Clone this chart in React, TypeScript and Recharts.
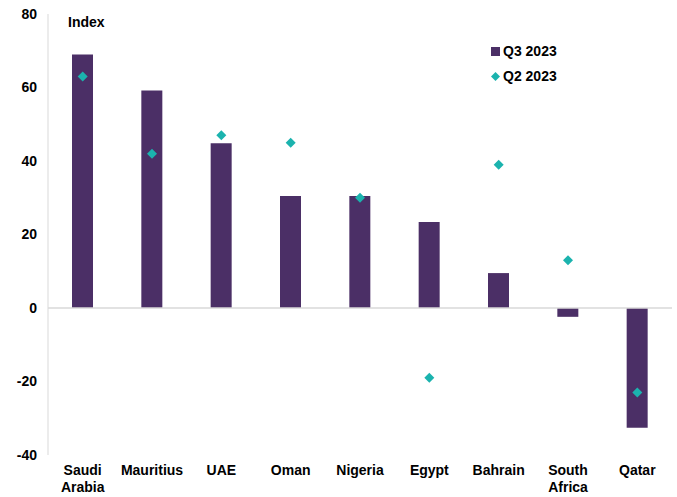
import { ComposedChart, Bar, Scatter, XAxis, YAxis, ReferenceLine } from 'recharts';

const categories = ['Saudi Arabia', 'Mauritius', 'UAE', 'Oman', 'Nigeria', 'Egypt', 'Bahrain', 'South Africa', 'Qatar'];
const q3Values = [69, 59.2, 44.8, 30.5, 30.5, 23.4, 9.5, -2.4, -32.6];
const q2Values = [63, 42, 47, 45, 30, -19, 39, 13, -23];
const yTicks = [-40, -20, 0, 20, 40, 60, 80];

const COLORS = {
  bar: '#4B2F66',
  diamond: '#1BB3AE',
  axis: '#D9D9D9',
  text: '#000000',
};

const FONT = '"Liberation Sans", Arial, sans-serif';

const data = categories.map((name, i) => ({ name, q3: q3Values[i], q2: q2Values[i] }));

const Diamond = (props: any) => {
  const { cx, cy } = props;
  const r = 5;
  return (
    <polygon
      points={`${cx},${cy - r} ${cx + r},${cy} ${cx},${cy + r} ${cx - r},${cy}`}
      fill={COLORS.diamond}
    />
  );
};

const XTick = (props: any) => {
  const { x, y, payload } = props;
  const words = String(payload.value).split(' ');
  return (
    <text x={x} y={y} textAnchor="middle" fontFamily={FONT} fontSize={14} fontWeight="bold" fill={COLORS.text}>
      {words.map((w, i) => (
        <tspan key={i} x={x} dy={i === 0 ? 12 : 17}>{w}</tspan>
      ))}
    </text>
  );
};

export default function App() {
  return (
    <div style={{ position: 'absolute', left: 0, top: 0, width: 677, height: 497, background: '#fff' }}>
      <ComposedChart width={677} height={497} data={data} margin={{ top: 14, right: 5, left: 0, bottom: 0 }}>
        <XAxis
          dataKey="name"
          tick={<XTick />}
          axisLine={false}
          tickLine={false}
          height={42}
          interval={0}
        />
        <YAxis
          domain={[-40, 80]}
          ticks={yTicks}
          width={48}
          tick={{ fontFamily: FONT, fontSize: 14, fontWeight: 'bold', fill: COLORS.text }}
          axisLine={{ stroke: COLORS.axis }}
          tickLine={false}
          tickSize={0}
          tickMargin={11}
        />
        <ReferenceLine y={0} stroke={COLORS.axis} strokeWidth={1.5} />
        <Bar dataKey="q3" fill={COLORS.bar} barSize={21} isAnimationActive={false} />
        <Scatter dataKey="q2" shape={<Diamond />} isAnimationActive={false} />
        <text x={68} y={27} fontFamily={FONT} fontSize={14} fontWeight="bold" fill={COLORS.text}>Index</text>
      </ComposedChart>
      <div
        style={{
          position: 'absolute',
          left: 491,
          top: 39,
          fontFamily: FONT,
          fontSize: 14,
          fontWeight: 'bold',
          color: COLORS.text,
          lineHeight: '25px',
        }}
      >
        <div style={{ display: 'flex', alignItems: 'center' }}>
          <svg width={9} height={9} style={{ marginRight: 3 }}>
            <rect width={9} height={9} fill={COLORS.bar} />
          </svg>
          Q3 2023
        </div>
        <div style={{ display: 'flex', alignItems: 'center' }}>
          <svg width={9} height={9} style={{ marginRight: 3 }}>
            <polygon points="4.5,0 9,4.5 4.5,9 0,4.5" fill={COLORS.diamond} />
          </svg>
          Q2 2023
        </div>
      </div>
    </div>
  );
}
